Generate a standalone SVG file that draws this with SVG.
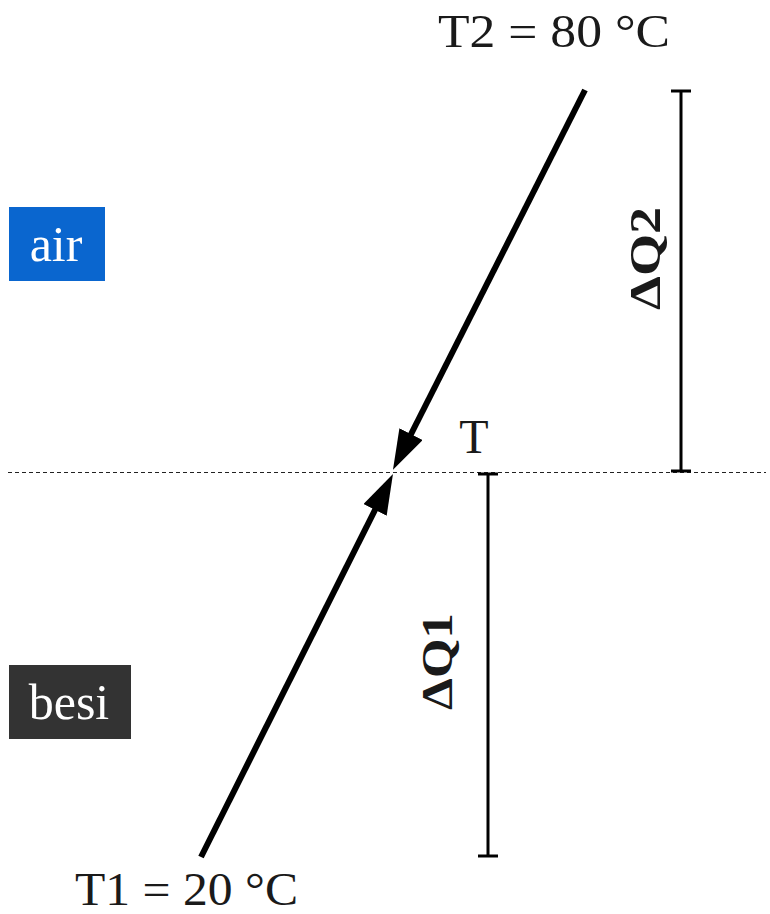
<svg xmlns="http://www.w3.org/2000/svg" width="770" height="914" viewBox="0 0 770 914">
<style>
  .lbl { font-family: "Liberation Serif", "DejaVu Serif", serif; fill: #1a1a1a; }
  .box { font-family: "Liberation Serif", "DejaVu Serif", serif; fill: #ffffff; font-size: 50px; }
  .dq { font-family: "Liberation Serif", "DejaVu Serif", serif; fill: #1a1a1a; font-size: 44px; font-weight: bold; }
  .flow { stroke: #000; stroke-width: 6; fill: none; marker-end: url(#head); }
  .bar { stroke: #000; stroke-width: 3; fill: none; }
</style>
<defs>
  <marker id="head" markerUnits="userSpaceOnUse" markerWidth="42" markerHeight="28" refX="20" refY="13" orient="auto">
    <path d="M0,0 L40,13 L0,26 z" fill="#000"/>
  </marker>
</defs>
<rect width="770" height="914" fill="#fff"/>
<g id="divider">
  <line x1="8" y1="472.5" x2="766" y2="472.5" stroke="#222" stroke-width="1" stroke-dasharray="4,3"/>
</g>
<g id="air">
  <rect x="9" y="207" width="96" height="74" fill="#0a66cf"/>
  <text class="box" x="56" y="261" text-anchor="middle">air</text>
</g>
<g id="besi">
  <rect x="9" y="665" width="122" height="74" fill="#333333"/>
  <text class="box" x="69" y="719" text-anchor="middle">besi</text>
</g>
<g id="t2">
  <text class="lbl" x="438" y="47" font-size="46" textLength="232" lengthAdjust="spacingAndGlyphs">T2 = 80 °C</text>
</g>
<g id="t1">
  <text class="lbl" x="75" y="905" font-size="46" textLength="223" lengthAdjust="spacingAndGlyphs">T1 = 20 °C</text>
</g>
<g id="t">
  <text class="lbl" x="474" y="453" font-size="48" text-anchor="middle">T</text>
</g>
<g id="dq2">
  <line class="bar" x1="681" y1="91" x2="681" y2="471"/>
  <line class="bar" x1="671" y1="91" x2="691" y2="91"/>
  <line class="bar" x1="671" y1="471" x2="691" y2="471"/>
  <text class="dq" transform="translate(660,310) rotate(-90)" textLength="103" lengthAdjust="spacingAndGlyphs">ΔQ2</text>
</g>
<g id="dq1">
  <line class="bar" x1="488" y1="474" x2="488" y2="856"/>
  <line class="bar" x1="478" y1="474" x2="498" y2="474"/>
  <line class="bar" x1="478" y1="856" x2="498" y2="856"/>
  <text class="dq" transform="translate(452,710) rotate(-90)" textLength="97" lengthAdjust="spacingAndGlyphs">ΔQ1</text>
</g>
<g id="connectors">
  <line class="flow" x1="585" y1="90" x2="402" y2="452"/>
  <line class="flow" x1="201" y1="857" x2="384" y2="492"/>
</g>
</svg>
